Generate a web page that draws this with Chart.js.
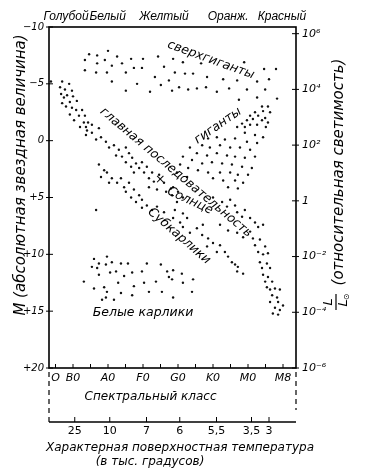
<!DOCTYPE html>
<html><head><meta charset="utf-8">
<script src="https://cdn.jsdelivr.net/npm/chart.js@4/dist/chart.umd.min.js"></script>
<style>html,body{margin:0;padding:0;background:#fff;}canvas{display:block;}</style>
</head><body>
<canvas id="c" width="379" height="471"></canvas>
<script>
// x = spectral class index (B0=1, A0=2, F0=3, G0=4, K0=5, M0=6, M8=7), y = absolute magnitude M
const supergiants = [[1.46,-7.6],[1.69,-7.5],[2.00,-7.9],[2.26,-7.4],[1.34,-7.1],[1.69,-6.8],[1.91,-7.1],[2.11,-6.6],[2.40,-6.8],[2.66,-7.2],[3.00,-7.2],[3.43,-7.4],[1.34,-6.2],[1.66,-6.0],[1.97,-6.0],[2.51,-6.0],[2.74,-6.4],[2.97,-6.4],[3.34,-5.6],[3.60,-6.5],[3.74,-5.3],[2.11,-5.2],[2.83,-5.0],[2.51,-4.4],[3.20,-4.3],[3.51,-4.9],[3.86,-7.2],[4.14,-6.9],[4.66,-6.8],[5.89,-6.9],[6.46,-6.3],[6.80,-6.3],[3.91,-6.0],[4.20,-5.9],[4.43,-5.9],[4.83,-5.6],[5.29,-5.4],[5.69,-5.3],[6.60,-5.4],[6.26,-5.2],[3.83,-4.4],[4.03,-4.7],[4.29,-4.5],[4.54,-4.6],[4.80,-4.7],[5.11,-4.3],[5.46,-4.6],[5.97,-4.5],[6.49,-4.5],[6.26,-3.8],[6.83,-3.7],[5.74,-3.6]];
const giants = [[6.40,-3.0],[6.57,-3.0],[6.20,-2.5],[6.43,-2.6],[6.63,-2.5],[6.06,-2.2],[6.29,-2.2],[6.49,-2.0],[5.97,-1.8],[6.14,-1.9],[6.40,-1.8],[6.57,-1.6],[5.83,-1.5],[6.06,-1.4],[6.26,-1.4],[6.51,-1.2],[5.69,-1.2],[5.91,-1.2],[5.91,-0.7],[6.20,-0.5],[6.43,-0.3],[4.86,-0.2],[5.11,-0.3],[5.34,-0.1],[5.63,-0.2],[5.97,0.1],[6.26,0.2],[4.69,0.4],[4.91,0.6],[5.20,0.4],[5.49,0.6],[5.77,0.6],[6.06,0.8],[4.34,0.6],[4.54,1.1],[4.83,1.3],[5.11,1.1],[5.40,1.3],[5.63,1.4],[5.91,1.5],[6.20,1.4],[4.14,1.4],[4.40,1.7],[4.69,2.0],[4.97,1.9],[5.26,2.0],[5.54,2.1],[5.83,2.3],[6.11,2.4],[4.06,2.1],[4.29,2.4],[4.57,2.6],[4.86,2.8],[5.20,2.8],[5.49,2.8],[5.71,3.0],[6.00,3.0],[3.97,2.8],[4.26,3.2],[5.00,3.3],[5.29,3.5],[5.63,3.5],[5.86,3.7],[5.43,4.1],[5.71,4.2]];
const mainSequence = [[0.37,-5.2],[0.69,-5.2],[0.89,-5.0],[0.63,-4.7],[0.77,-4.5],[0.97,-4.4],[0.66,-4.1],[0.83,-4.0],[1.00,-3.9],[0.74,-3.8],[0.91,-3.4],[1.11,-3.5],[0.69,-3.3],[0.80,-3.0],[0.97,-2.9],[1.09,-2.7],[1.26,-2.7],[0.91,-2.3],[1.17,-2.2],[1.34,-2.2],[1.03,-1.8],[1.31,-1.6],[1.43,-1.6],[1.54,-1.4],[1.20,-1.2],[1.37,-1.2],[1.74,-1.1],[1.40,-0.9],[1.54,-0.7],[1.37,-0.5],[1.80,-0.3],[1.66,-0.1],[1.94,0.1],[2.17,0.4],[2.03,0.6],[2.31,0.8],[2.51,0.6],[2.23,1.3],[2.40,1.4],[2.60,1.1],[2.69,1.5],[2.51,1.9],[2.80,2.0],[2.97,1.9],[2.66,2.3],[2.89,2.4],[3.11,2.3],[2.74,2.8],[3.03,2.8],[3.26,2.8],[3.17,3.3],[3.46,3.0],[3.31,3.6],[3.60,3.7],[3.17,4.1],[3.40,4.3],[3.66,4.5],[3.80,4.2],[3.86,4.1],[4.00,4.5],[3.83,4.8],[4.14,5.0],[3.97,5.4],[5.00,5.0],[5.26,5.4],[5.49,5.2],[5.40,5.8],[5.63,5.7],[5.69,6.3],[5.91,6.1],[5.83,6.7],[6.06,6.8],[6.20,7.2],[5.20,7.4],[5.43,7.9],[5.69,8.1],[5.86,8.5],[6.06,8.0],[6.29,7.6],[6.43,7.4],[6.14,8.6],[6.34,8.7],[6.20,9.2],[6.49,9.3],[6.29,9.8],[6.43,10.0],[6.57,9.9],[6.34,10.7],[6.54,10.8],[6.40,11.2],[6.63,11.2],[6.43,11.8],[6.57,12.0],[6.49,12.4],[6.69,12.4],[6.54,12.9],[6.77,13.0],[6.63,13.1],[6.91,13.1],[6.69,13.6],[6.83,13.8],[6.63,14.2],[6.86,14.2],[7.00,14.5],[6.77,14.7],[6.91,14.9],[6.71,15.2],[6.86,15.3]];
const subdwarfs = [[1.74,2.1],[1.89,2.6],[1.80,3.2],[1.97,2.8],[2.11,3.3],[2.03,3.7],[2.26,3.7],[2.37,3.3],[2.46,4.1],[2.60,3.7],[2.51,4.5],[2.74,4.3],[2.66,5.0],[2.89,4.8],[2.97,5.2],[2.80,5.4],[3.11,5.7],[2.97,5.9],[3.26,6.1],[3.40,5.8],[3.60,6.3],[1.66,6.1],[3.91,6.1],[4.14,6.4],[3.86,6.8],[4.06,7.2],[4.26,6.8],[4.14,7.6],[4.54,7.7],[4.71,7.4],[4.34,8.1],[4.69,8.3],[4.86,8.6],[4.83,9.3],[5.00,9.0],[5.20,9.2],[5.11,9.8],[5.34,9.8],[5.43,10.2],[5.54,10.7],[5.63,10.9],[5.71,11.1],[5.69,11.5],[5.86,11.7]];
const whiteDwarfs = [[1.31,12.4],[1.60,10.4],[1.74,10.8],[1.97,10.2],[1.54,11.1],[1.69,11.2],[1.94,10.9],[2.11,10.7],[2.37,10.8],[2.57,10.8],[1.74,11.8],[2.06,11.6],[2.23,11.5],[2.46,11.9],[2.69,11.6],[2.97,11.5],[3.11,10.8],[3.51,10.9],[3.69,11.5],[1.60,13.0],[1.89,12.9],[2.29,12.5],[2.74,12.8],[3.03,12.5],[3.37,12.4],[3.74,12.0],[1.97,13.3],[2.37,13.4],[2.69,13.6],[3.17,13.3],[3.54,13.3],[1.83,14.0],[2.17,14.0],[1.94,13.8],[3.86,11.4],[4.11,11.7],[3.83,12.2],[4.14,12.5],[4.43,12.2],[4.40,13.3],[3.86,13.8]];

const specTickPos = [0.5,1,1.5,2,2.5,3,3.5,4,4.5,5,5.5,6,6.5,7];
const specLabels  = ['O','B0','','A0','','F0','','G0','','K0','','M0','','M8'];
const magTicks = [-10,-5,0,5,10,15,20];
const lumTicks = [6,4,2,0,-2,-4,-6];          // log10(L/Lsun)
const tempPos = [1.05,2.05,3.1,4.05,5.1,6.1,6.6];
const tempLabels = ['25','10','7','6','5,5','3,5','3'];
const colorNames = ['Голубой','Белый','Желтый','Оранж.','Красный'];
const colorPos = [0.80,1.99,3.6,5.43,6.97];
const regionLabels = [
  {text:'сверхгиганты', x:4.94, y:-7.1, rot:20},
  {text:'гиганты', x:5.14, y:-1.3, rot:-35},
  {text:'главная последовательность', x:3.94, y:2.8, rot:40},
  {text:'×', x:3.49, y:3.4, rot:0},
  {text:'Солнце', x:4.34, y:5.3, rot:25},
  {text:'Субкарлики', x:4.03, y:8.4, rot:41},
  {text:'Белые карлики', x:3.0, y:15.1, rot:0}
];

const F = '"DejaVu Sans", sans-serif';
const FL = '"Liberation Sans", sans-serif';
const sup = s => String(s).split('').map(ch => ({'-':'⁻','0':'⁰','1':'¹','2':'²','3':'³','4':'⁴','5':'⁵','6':'⁶','7':'⁷','8':'⁸','9':'⁹'}[ch])).join('');

const toPts = arr => arr.map(p => ({x:p[0], y:p[1]}));
const ds = (arr) => ({data:toPts(arr), pointRadius:1.2, pointBackgroundColor:'#111', pointBorderWidth:0, showLine:false});

const overlay = {
  id:'overlay',
  afterDraw(chart){
    const {ctx, chartArea:a, scales:{x,y,y2}} = chart;
    const line=(x1,y1,x2,y2_)=>{ctx.beginPath();ctx.moveTo(x1,y1);ctx.lineTo(x2,y2_);ctx.stroke();};
    ctx.save();
    ctx.strokeStyle='#000'; ctx.fillStyle='#000';
    ctx.lineWidth=1.6;
    ctx.strokeRect(a.left,a.top,a.right-a.left,a.bottom-a.top);
    ctx.lineWidth=1;
    x.ticks.forEach(t=>{const p=x.getPixelForValue(t.value); line(p,a.bottom,p,a.bottom-4);});
    y.ticks.forEach(t=>{const p=y.getPixelForValue(t.value); line(a.left-3,p,a.left+4,p);});
    y2.ticks.forEach(t=>{const p=y2.getPixelForValue(t.value); line(a.right-4,p,a.right+3,p);});

    // colour names on top
    ctx.font='italic 12px '+FL; ctx.textAlign='center'; ctx.textBaseline='middle';
    colorNames.forEach((n,i)=>ctx.fillText(n, x.getPixelForValue(colorPos[i]), a.top-10));

    // region labels
    ctx.font='italic 12.5px '+F;
    regionLabels.forEach(l=>{
      ctx.save();
      ctx.translate(x.getPixelForValue(l.x), y.getPixelForValue(l.y));
      ctx.rotate(l.rot*Math.PI/180);
      ctx.fillText(l.text,0,0);
      ctx.restore();
    });

    // spectral class title
    ctx.font='italic 12px '+F;
    ctx.fillText('Спектральный класс', (a.left+a.right)/2 - 22, a.bottom+29);

    // dashed connectors and temperature axis
    const ty = a.bottom+54;
    ctx.setLineDash([5,4]); ctx.lineWidth=1.2;
    line(a.left, a.bottom+4, a.left, ty);
    line(a.right, a.bottom+4, a.right, ty-12);
    ctx.setLineDash([]); ctx.lineWidth=1.4;
    line(a.left, ty, a.right, ty);
    ctx.lineWidth=1;
    ctx.font='11px '+F;
    tempPos.forEach((v,i)=>{
      const p=x.getPixelForValue(v);
      line(p,ty,p,ty-5);
      ctx.fillText(tempLabels[i], p, ty+9);
    });
    ctx.font='italic 12px '+F;
    ctx.fillText('Характерная поверхностная температура', 180, ty+26);
    ctx.fillText('(в тыс. градусов)', 150, ty+40);

    // left axis title
    ctx.save();
    ctx.translate(21, 175); ctx.rotate(-Math.PI/2);
    ctx.font='italic 15px '+F;
    ctx.fillText('M (абсолютная звездная величина)', 0, 0);
    ctx.restore();

    // right axis title
    ctx.save();
    ctx.translate(339, 172); ctx.rotate(-Math.PI/2);
    ctx.font='italic 15px '+F;
    ctx.fillText('(относительная светимость)', 0, 0);
    ctx.restore();
    ctx.save();
    ctx.translate(336, 302); ctx.rotate(-Math.PI/2);
    ctx.font='italic 13px '+F;
    ctx.fillText('L', 0, -7);
    ctx.lineWidth=1.2; line(-8,0,8,0);
    ctx.fillText('L', -1, 8); ctx.font='8px '+F; ctx.fillText('⊙', 5, 11);
    ctx.restore();
    ctx.restore();
  }
};

new Chart(document.getElementById('c'), {
  type:'scatter',
  data:{datasets:[ds(supergiants),ds(giants),ds(mainSequence),ds(subdwarfs),ds(whiteDwarfs)]},
  options:{
    responsive:false, animation:false, devicePixelRatio:1,
    layout:{padding:{top:27,left:0,right:0,bottom:0}},
    plugins:{legend:{display:false}, tooltip:{enabled:false}},
    scales:{
      x:{type:'linear', position:'bottom', min:0.314, max:7.371,
        grid:{display:false, drawTicks:false}, border:{display:false},
        afterBuildTicks:s=>{s.ticks=specTickPos.map(v=>({value:v}));},
        afterFit:s=>{s.height=103;},
        ticks:{autoSkip:false, maxRotation:0, padding:4, color:'#000', font:{family:F, size:11, style:'italic'},
          callback:(v)=>{const i=specTickPos.indexOf(v); return i>=0?specLabels[i]:'';}}},
      y:{type:'linear', position:'left', reverse:true, min:-10, max:20,
        grid:{display:false, drawTicks:false}, border:{display:false},
        afterBuildTicks:s=>{s.ticks=magTicks.map(v=>({value:v}));},
        afterFit:s=>{s.width=49;},
        ticks:{padding:5, color:'#000', font:{family:F, size:10, style:'italic'},
          callback:v=> v<0 ? '−'+Math.abs(v) : (v>0 ? '+'+v : '0')}},
      y2:{type:'linear', position:'right', min:-6.0, max:6.24,
        grid:{display:false, drawTicks:false}, border:{display:false},
        afterBuildTicks:s=>{s.ticks=lumTicks.map(v=>({value:v}));},
        afterFit:s=>{s.width=83;},
        ticks:{padding:6, color:'#000', font:{family:F, size:11, style:'italic'},
          callback:v=> v===0 ? '1' : '10'+sup(v)}}
    }
  },
  plugins:[overlay]
});
</script>
</body></html>
